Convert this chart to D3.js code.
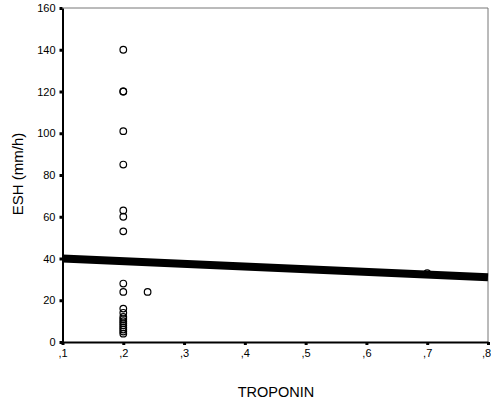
<!DOCTYPE html>
<html>
<head>
<meta charset="utf-8">
<script src="https://cdn.jsdelivr.net/npm/d3@7"></script>
<style>
  body { margin: 0; background: #fff; }
  text { font-family: "Liberation Sans", Arial, sans-serif; }
</style>
</head>
<body>
<svg id="chart"></svg>
<script>
const xTicks = [0.1, 0.2, 0.3, 0.4, 0.5, 0.6, 0.7, 0.8];
const xTickLabels = [",1", ",2", ",3", ",4", ",5", ",6", ",7", ",8"];
const yTicks = [0, 20, 40, 60, 80, 100, 120, 140, 160];

// observed points
const troponin = [0.2, 0.2, 0.2, 0.2, 0.2, 0.2, 0.2, 0.2, 0.2, 0.2, 0.2, 0.2, 0.2, 0.2,
  0.2, 0.2, 0.2, 0.2, 0.2, 0.2, 0.2, 0.24, 0.7];
const esh = [140, 120, 120, 101, 85, 63, 60, 53, 28, 24, 16, 14, 12, 11,
  10, 9, 8, 7, 6, 5, 4, 24, 33];

// linear fit end points
const fitX = [0.1, 0.8];
const fitY = [40, 31];

const w = 491;
const h = 410;
const padLeft = 62.5, padRight = 488, padTop = 8, padBottom = 342;

const svg = d3.select("#chart").attr("width", w).attr("height", h);

const xScale = d3.scaleLinear().domain([0.1, 0.8]).range([padLeft, padRight]);
const yScale = d3.scaleLinear().domain([0, 160]).range([padBottom, padTop]);

// frame (top and right, grey)
svg.append("path")
  .attr("d", `M${padLeft},${padTop}H${padRight}V${padBottom}`)
  .attr("fill", "none")
  .attr("stroke", "#777")
  .attr("stroke-width", 1);

const xAxis = d3.axisBottom(xScale)
  .tickValues(xTicks)
  .tickFormat((d, i) => xTickLabels[i])
  .tickSizeInner(3)
  .tickSizeOuter(0)
  .tickPadding(4);

const yAxis = d3.axisLeft(yScale)
  .tickValues(yTicks)
  .tickSizeInner(3)
  .tickSizeOuter(0)
  .tickPadding(4);

const gx = svg.append("g")
  .attr("transform", `translate(0, ${padBottom})`)
  .call(xAxis);

const gy = svg.append("g")
  .attr("transform", `translate(${padLeft}, 0)`)
  .call(yAxis);

[gx, gy].forEach((g) => {
  g.select(".domain").attr("stroke", "#000").attr("stroke-width", 2);
  g.selectAll(".tick line").attr("stroke", "#000").attr("stroke-width", 3);
  g.selectAll(".tick text").attr("fill", "#000").style("font-size", "11px");
});

// last label sits at the right edge, nudge it inside
gx.selectAll(".tick text").filter((d, i) => i === xTicks.length - 1).attr("dx", "-2");

// regression line
svg.append("line")
  .attr("x1", xScale(fitX[0]))
  .attr("y1", yScale(fitY[0]))
  .attr("x2", xScale(fitX[1]))
  .attr("y2", yScale(fitY[1]))
  .attr("stroke", "#000")
  .attr("stroke-width", 8);

svg.selectAll(".dot")
  .data(troponin.map((t, i) => ({ t, v: esh[i] })))
  .enter()
  .append("circle")
  .attr("class", "dot")
  .attr("cx", (d) => xScale(d.t))
  .attr("cy", (d) => yScale(d.v))
  .attr("r", 3.3)
  .attr("fill", "none")
  .attr("stroke", "#000")
  .attr("stroke-width", 1.2);

svg.append("text")
  .attr("x", 276)
  .attr("y", 397)
  .attr("text-anchor", "middle")
  .style("font-size", "14.5px")
  .text("TROPONIN");

svg.append("text")
  .attr("transform", `translate(23, 174) rotate(-90)`)
  .attr("text-anchor", "middle")
  .style("font-size", "15px")
  .text("ESH (mm/h)");
</script>
</body>
</html>
